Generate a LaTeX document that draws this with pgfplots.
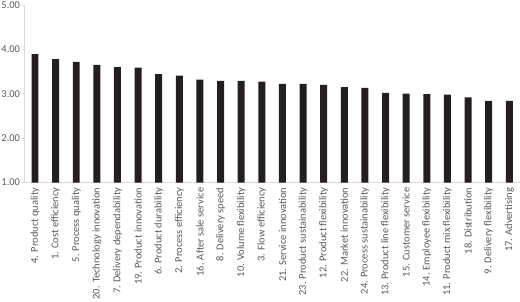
\documentclass[border=0pt]{standalone}
\usepackage{pgfplots}
\pgfplotsset{compat=1.18}
\usepackage{fontspec}
\setmainfont{Carlito}
\definecolor{barc}{HTML}{231F20}
\definecolor{axc}{HTML}{D9D9D9}
\definecolor{txt}{HTML}{595959}
\begin{document}
\begin{tikzpicture}
\begin{axis}[
  scale only axis,
  width=496bp, height=178bp,
  xmin=-0.5, xmax=23.5,
  ymin=1, ymax=5,
  ytick={1,2,3,4,5},
  yticklabel style={/pgf/number format/fixed, /pgf/number format/fixed zerofill, /pgf/number format/precision=2, /pgf/number format/assume math mode=true},
  axis x line*=bottom,
  axis y line*=left,
  axis line style={axc, line width=0.8pt},
  x axis line style={-}, y axis line style={-},
  xtick=data,
  xticklabels={4. Product quality,1. Cost efficiency,5. Process quality,20. Technology innovation,7. Delivery dependability,19. Product innovation,6. Product durability,2. Process efficiency,16. After sale service,8. Delivery speed,10. Volume flexibility,3. Flow efficiency,21. Service innovation,23. Product sustainability,12. Product flexibility,22. Market innovation,24. Process sustainability,13. Product line flexibility,15. Customer service,14. Employee flexibility,11. Product mix flexibility,18. Distribution,9. Delivery flexibility,17. Advertising},
  xticklabel style={rotate=90, anchor=east, font=\fontsize{10.5}{12}\selectfont, text=txt, inner sep=2bp},
  yticklabel style={font=\fontsize{10.5}{12}\selectfont, text=txt, inner sep=1.5bp},
  x tick style={draw=none},
  y tick style={axc, line width=0.8pt},
  tick align=outside,
  major tick length=3bp,
  ybar, bar width=7bp,
]
\addplot[fill=barc, draw=none] coordinates {
(0,3.89) (1,3.78) (2,3.72) (3,3.65) (4,3.60) (5,3.59) (6,3.44) (7,3.41)
(8,3.32) (9,3.29) (10,3.29) (11,3.27) (12,3.22) (13,3.22) (14,3.20) (15,3.15)
(16,3.13) (17,3.02) (18,3.00) (19,2.99) (20,2.98) (21,2.92) (22,2.84) (23,2.84)};
\end{axis}
\end{tikzpicture}
\end{document}
